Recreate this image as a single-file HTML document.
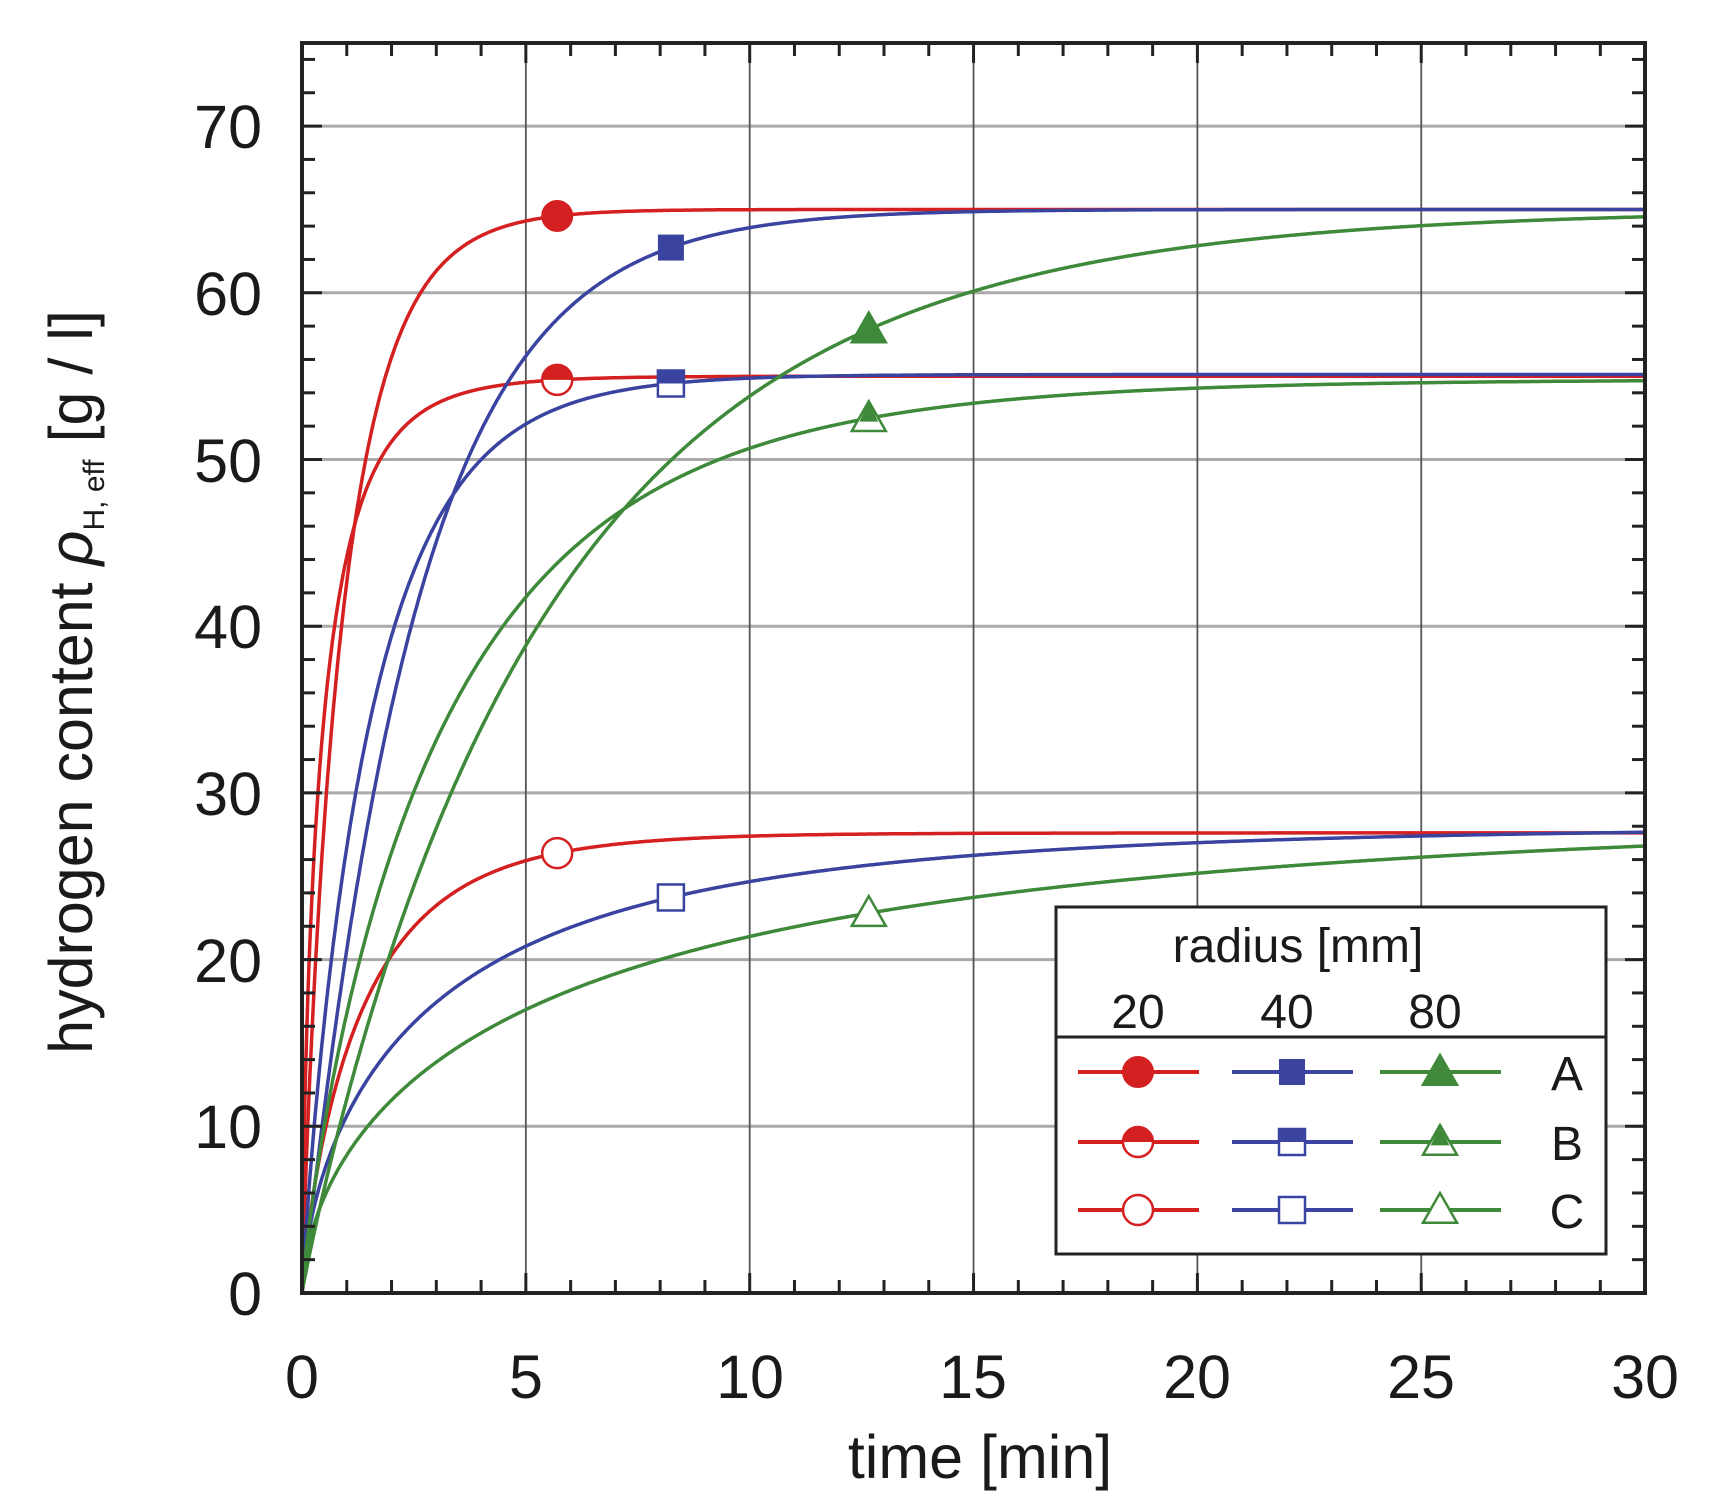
<!DOCTYPE html>
<html><head><meta charset="utf-8"><style>
html,body{margin:0;padding:0;background:#fff}
svg{display:block}
text{font-family:"Liberation Sans",sans-serif;fill:#1a1a1a}
</style></head><body>
<svg id="s" width="1716" height="1512" viewBox="0 0 1716 1512" xmlns="http://www.w3.org/2000/svg">
<g id="grid"></g>
<g id="curves" fill="none" stroke-width="3.5"></g>
<g id="ticks" stroke="#222" stroke-width="3"></g>
<rect x="302" y="43" width="1343" height="1250" fill="none" stroke="#222" stroke-width="4"/>
<g id="marks"></g>
<g font-size="61">
<text x="262" y="1315" text-anchor="end">0</text>
<text x="262" y="1148" text-anchor="end">10</text>
<text x="262" y="982" text-anchor="end">20</text>
<text x="262" y="815" text-anchor="end">30</text>
<text x="262" y="648" text-anchor="end">40</text>
<text x="262" y="482" text-anchor="end">50</text>
<text x="262" y="315" text-anchor="end">60</text>
<text x="262" y="148" text-anchor="end">70</text>
<text x="302" y="1398" text-anchor="middle">0</text>
<text x="526" y="1398" text-anchor="middle">5</text>
<text x="750" y="1398" text-anchor="middle">10</text>
<text x="973" y="1398" text-anchor="middle">15</text>
<text x="1197" y="1398" text-anchor="middle">20</text>
<text x="1421" y="1398" text-anchor="middle">25</text>
<text x="1645" y="1398" text-anchor="middle">30</text>
<text x="980" y="1478" text-anchor="middle">time [min]</text>
<text transform="translate(92,682) rotate(-90)" text-anchor="middle">hydrogen content <tspan font-style="italic">ρ</tspan><tspan font-size="30" dy="12">H, eff</tspan><tspan dy="-12"> [g / l]</tspan></text>
</g>
<g id="legend">
<rect x="1056" y="907" width="550" height="347" fill="#fff" stroke="#222" stroke-width="3"/>
<line x1="1056" y1="1037" x2="1606" y2="1037" stroke="#222" stroke-width="3"/>
<g font-size="48">
<text x="1298" y="962" text-anchor="middle">radius [mm]</text>
<text x="1138" y="1028" text-anchor="middle">20</text>
<text x="1287" y="1028" text-anchor="middle">40</text>
<text x="1435" y="1028" text-anchor="middle">80</text>
<text x="1567" y="1090" text-anchor="middle">A</text>
<text x="1567" y="1160" text-anchor="middle">B</text>
<text x="1567" y="1228" text-anchor="middle">C</text>
</g>
</g>
</svg>
<script>
var NS="http://www.w3.org/2000/svg";
function X(t){return 302+t*44.77}
function Y(v){return 1293-v*16.67}
function el(p,tag,a){var e=document.createElementNS(NS,tag);for(var k in a)e.setAttribute(k,a[k]);p.appendChild(e);return e}
var g=document.getElementById('grid'),tk=document.getElementById('ticks'),cv=document.getElementById('curves'),mk=document.getElementById('marks'),lg=document.getElementById('legend');
for(var v=10;v<=70;v+=10)el(g,'line',{x1:302,x2:1645,y1:Y(v),y2:Y(v),stroke:'#aaa','stroke-width':3});
for(var t=5;t<30;t+=5)el(g,'line',{x1:X(t),x2:X(t),y1:43,y2:1293,stroke:'#555','stroke-width':1.8});
for(var t=1;t<30;t++){var L=(t%5==0)?20:13;el(tk,'line',{x1:X(t),x2:X(t),y1:1293,y2:1293-L});el(tk,'line',{x1:X(t),x2:X(t),y1:43,y2:43+L});}
for(var v=2;v<75;v+=2){var L=(v%10==0)?20:13;el(tk,'line',{x1:302,x2:302+L,y1:Y(v),y2:Y(v)});el(tk,'line',{x1:1645,x2:1645-L,y1:Y(v),y2:Y(v)});}
var R='#d42020',B='#3a44a0',G='#3e8a3a';
var S=[[65,0.93,0.9,R],[55,0.5,0.7,R],[27.6,1.42,0.82,R],[65,2.55,1.03,B],[55.1,1.56,0.92,B],[28,3.12,0.65,B],[65,5.52,0.95,G],[54.8,3.27,0.85,G],[29,6.16,0.6,G]];
S.forEach(function(s){var d='M'+X(0)+' '+Y(0);for(var i=1;i<=1200;i++){var t=i*0.025;var v=s[0]*(1-Math.exp(-Math.pow(t/s[1],s[2])));d+=' L'+X(t).toFixed(1)+' '+Y(v).toFixed(1);}el(cv,'path',{d:d,stroke:s[3]});});
function val(s,t){return s[0]*(1-Math.exp(-Math.pow(t/s[1],s[2])))}
function circ(p,x,y,c,type){if(type==0)el(p,'circle',{cx:x,cy:y,r:15,fill:c,stroke:c,'stroke-width':2});
 else if(type==1){el(p,'circle',{cx:x,cy:y,r:15,fill:'#fff',stroke:c,'stroke-width':2.5});el(p,'path',{d:'M'+(x-15)+' '+y+' A15 15 0 0 1 '+(x+15)+' '+y+' Z',fill:c});}
 else el(p,'circle',{cx:x,cy:y,r:15,fill:'#fff',stroke:c,'stroke-width':2.5});}
function sq(p,x,y,c,type){var h=13;if(type==2||type==1)el(p,'rect',{x:x-h,y:y-h,width:2*h,height:2*h,fill:'#fff',stroke:c,'stroke-width':2.5});
 if(type==0)el(p,'rect',{x:x-h,y:y-h,width:2*h,height:2*h,fill:c});if(type==1)el(p,'rect',{x:x-h,y:y-h,width:2*h,height:h,fill:c});}
function tri(p,x,y,c,type){var h=17;var d='M'+x+' '+(y-h)+' L'+(x+h)+' '+(y+h*0.75)+' L'+(x-h)+' '+(y+h*0.75)+' Z';
 el(p,'path',{d:d,fill:type==0?c:'#fff',stroke:c,'stroke-width':2.5});
 if(type==1)el(p,'path',{d:'M'+x+' '+(y-h)+' L'+(x+h*0.55)+' '+(y+h*0.2)+' L'+(x-h*0.55)+' '+(y+h*0.2)+' Z',fill:c});}
var F=[circ,sq,tri],T=[5.7,8.24,12.66];
for(var i=0;i<9;i++){var c=Math.floor(i/3),ty=i%3;F[c](mk,X(T[c]),Y(val(S[i],T[c])),S[i][3],ty);}
var LX=[[1078,1199,1138],[1232,1353,1292],[1380,1501,1440]],LY=[1072,1142,1210],C=[R,B,G];
for(var c=0;c<3;c++)for(var r=0;r<3;r++){el(lg,'line',{x1:LX[c][0],x2:LX[c][1],y1:LY[r],y2:LY[r],stroke:C[c],'stroke-width':4});F[c](lg,LX[c][2],LY[r],C[c],r);}
</script>
</body></html>
